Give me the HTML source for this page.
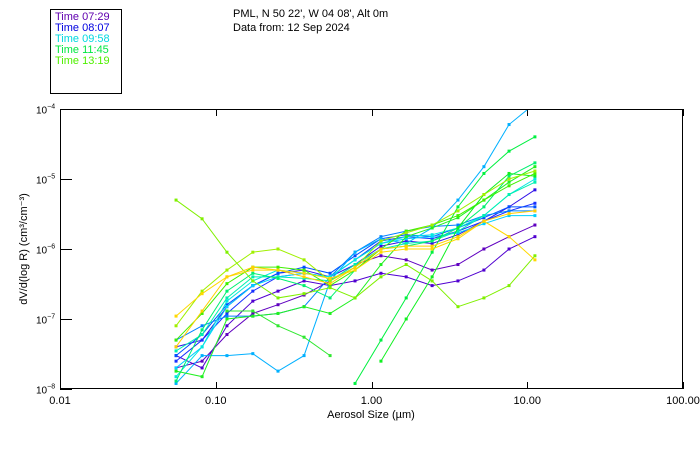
<!DOCTYPE html>
<html><head><meta charset="utf-8">
<style>
body{margin:0;background:#fff;width:700px;height:450px;overflow:hidden;font-family:"Liberation Sans","DejaVu Sans",sans-serif;}
svg{position:absolute;left:0;top:0}
</style></head>
<body>
<svg id="chart" width="700" height="450">
 <g>
  <rect x="50.5" y="9.5" width="71" height="84" fill="none" stroke="#000"/>
  <text x="55" y="20" font-size="11" fill="#6000b0">Time 07:29</text>
  <text x="55" y="31" font-size="11" fill="#0000e0">Time 08:07</text>
  <text x="55" y="42" font-size="11" fill="#00d8e0">Time 09:58</text>
  <text x="55" y="53" font-size="11" fill="#00e840">Time 11:45</text>
  <text x="55" y="64" font-size="11" fill="#50f000">Time 13:19</text>
 </g>
 <text x="233" y="17" font-size="11">PML, N 50 22', W 04 08', Alt 0m</text>
 <text x="233" y="31" font-size="11">Data from: 12 Sep 2024</text>
 <g id="axes"></g>
 <g id="series"></g>
 <rect x="60.5" y="109.5" width="622" height="279" fill="none" stroke="#000"/>
 <text x="371" y="418" font-size="11" text-anchor="middle">Aerosol Size (µm)</text>
 <text transform="translate(27,249) rotate(-90)" font-size="11" text-anchor="middle">dV/d(log R) (cm³/cm⁻³)</text>
</svg>
<script>
const sizes=[0.0556,0.0817,0.118,0.173,0.251,0.369,0.542,0.784,1.15,1.67,2.45,3.59,5.27,7.64,11.2];
const xTicks=[0.01,0.1,1,10,100];
const xTickLabels=["0.01","0.10","1.00","10.00","100.00"];
const yExps=[-4,-5,-6,-7,-8];
const seriesColors=["#6000c0","#5000d0","#3010e8","#1830ff","#0050ff","#0080ff","#00b0ff","#00d0ff","#00e8e0","#00f0b0","#00f070","#00f040","#10f020","#20f020","#40f000","#30e830","#80f000","#a0f000","#ffd800","#ffd000"];
const s1=[2e-8,2.5e-8,6e-8,1.2e-7,1.6e-7,2.2e-7,3.5e-7,6e-7,8e-7,7e-7,5e-7,6e-7,1e-6,1.5e-6,2.2e-6];
const s2=[3e-8,2e-8,8e-8,1.8e-7,2.5e-7,3.5e-7,3e-7,3.5e-7,4.5e-7,4e-7,3e-7,3.5e-7,5e-7,1e-6,1.5e-6];
const s3=[4e-8,5e-8,1.5e-7,3e-7,4.5e-7,5e-7,4e-7,6e-7,1.1e-6,1.3e-6,1.2e-6,1.6e-6,2.5e-6,4e-6,7e-6];
const s4=[2.5e-8,5e-8,1.2e-7,2.5e-7,4e-7,4.5e-7,4e-7,7e-7,1.3e-6,1.5e-6,1.4e-6,1.8e-6,2.5e-6,3.5e-6,4.5e-6];
const s5=[3e-8,6e-8,1.6e-7,3e-7,4.5e-7,5.5e-7,4.5e-7,8e-7,1.4e-6,1.6e-6,1.5e-6,2e-6,2.8e-6,4e-6,4e-6];
const s6=[5e-8,8e-8,1.1e-7,1.1e-7,1.2e-7,1.5e-7,4e-7,9e-7,1.5e-6,1.8e-6,2.1e-6,2.2e-6,3e-6,3.5e-6,3.5e-6];
const s7=[1.2e-8,3e-8,3e-8,3.2e-8,1.8e-8,3e-8,3.5e-7,9e-7,1.4e-6,1.2e-6,2e-6,5e-6,1.5e-5,6e-5,1.2e-4];
const s8=[2e-8,4e-8,1.5e-7,3e-7,4e-7,4.5e-7,4e-7,7e-7,1.2e-6,1.4e-6,1.5e-6,1.7e-6,2.3e-6,3e-6,3e-6];
const s9=[1.5e-8,4e-8,1.8e-7,3.5e-7,5e-7,4.5e-7,4e-7,7e-7,1.2e-6,1.5e-6,1.6e-6,2e-6,3e-6,6e-6,1e-5];
const s10=[3.5e-8,6e-8,2e-7,4e-7,4e-7,3.8e-7,3.5e-7,6e-7,1e-6,1.2e-6,1.3e-6,1.8e-6,3e-6,6e-6,9e-6];
const s11=[1.3e-8,7e-8,2.5e-7,4.5e-7,3.8e-7,3e-7,2e-7,5e-7,1e-6,1.1e-6,1.3e-6,2e-6,4e-6,1.1e-5,1.7e-5];
const s12=[null,null,null,null,null,null,null,1.2e-8,5e-8,2e-7,9e-7,4e-6,1.2e-5,2.5e-5,4e-5];
const s13=[null,null,null,null,null,null,null,null,2.5e-8,1e-7,4e-7,2e-6,6e-6,1.2e-5,1.1e-5];
const s14=[1.8e-8,1.5e-8,1e-7,1.1e-7,1.2e-7,1.5e-7,1.2e-7,2e-7,6e-7,1.5e-6,2e-6,2.8e-6,5e-6,9e-6,1.5e-5];
const s15=[5e-8,1.2e-7,3.2e-7,5.5e-7,5.5e-7,5e-7,3e-7,5e-7,1e-6,1.8e-6,2.2e-6,3e-6,5e-6,8e-6,1.2e-5];
const s16=[null,null,1.3e-7,1.3e-7,8e-8,5.5e-8,3e-8,null,null,null,null,null,null,null,null];
const s17=[5e-6,2.7e-6,9e-7,3.5e-7,2e-7,2.3e-7,2.8e-7,2e-7,4e-7,6e-7,3.5e-7,1.5e-7,2e-7,3e-7,8e-7];
const s18=[8e-8,2.5e-7,5e-7,9e-7,1e-6,7e-7,3.5e-7,5.5e-7,1.3e-6,1.7e-6,2.2e-6,3.5e-6,6e-6,1e-5,1.3e-5];
const s19=[1.1e-7,2.3e-7,4e-7,5e-7,5e-7,4.5e-7,3.8e-7,5e-7,9e-7,1e-6,1e-6,1.4e-6,2.5e-6,1.5e-6,7e-7];
const s20=[4e-8,1.3e-7,4e-7,5.5e-7,5e-7,4e-7,3.2e-7,5.5e-7,1e-6,1.1e-6,1.1e-6,1.5e-6,2.5e-6,3.2e-6,3.5e-6];
const allSeries=[s1,s2,s3,s4,s5,s6,s7,s8,s9,s10,s11,s12,s13,s14,s15,s16,s17,s18,s19,s20];

const X0=60,X1=683,Y0=109,Y1=389;
function xs(v){return X0+(Math.log10(v)+2)/4*(X1-X0);}
function ys(v){return Y0+(-4-Math.log10(v))/4*(Y1-Y0);}
const NS="http://www.w3.org/2000/svg";
function mk(t,a){const e=document.createElementNS(NS,t);for(const k in a)e.setAttribute(k,a[k]);return e;}
const axes=document.getElementById('axes');
xTicks.forEach((t,i)=>{
  const x=Math.round(xs(t))+0.5;
  const l=mk('line',{x1:x,x2:x,y1:Y1,y2:Y1-7,stroke:'#000'});
  
  
  axes.appendChild(l);
  const l2=mk('line',{x1:x,x2:x,y1:Y0,y2:Y0+7,stroke:'#000'});
  
  
  axes.appendChild(l2);
  const tx=mk('text',{x:xs(t),y:404,'font-size':11,'text-anchor':'middle'});
  tx.textContent=xTickLabels[i];
  
  
  axes.appendChild(tx);
});
yExps.forEach(e=>{
  const y=Math.round(ys(Math.pow(10,e)))+0.5;
  const l=mk('line',{x1:X0,x2:X0+12,y1:y,y2:y,stroke:'#000'});
  
  
  axes.appendChild(l);
  const tx=mk('text',{x:36,y:y+4,'font-size':10});
  tx.textContent='10';
  const sp=mk('tspan',{dy:-5,'font-size':7});
  sp.textContent=String(e).replace('-','−');
  tx.appendChild(sp);
  
  
  axes.appendChild(tx);
});
const sg=document.getElementById('series');
allSeries.forEach((s,si)=>{
  const g=mk('g',{});
  
  
  let pts=[];
  const flush=()=>{if(pts.length>1){const p=mk('polyline',{points:pts.join(' '),fill:'none',stroke:seriesColors[si],'stroke-width':1});g.appendChild(p);}pts=[];};
  s.forEach((v,i)=>{
    if(v==null){flush();return;}
    const x=xs(sizes[i]),y=ys(v);
    pts.push(x+','+y);
    if(y<Y0-2)return;
    const r=mk('rect',{x:x-1.5,y:y-1.5,width:3,height:3,fill:seriesColors[si]});
    
    
    g.appendChild(r);
  });
  flush();
  sg.appendChild(g);
});
sg.setAttribute('clip-path','url(#clip)');
const defs=mk('defs',{});const cp=mk('clipPath',{id:'clip'});cp.appendChild(mk('rect',{x:X0,y:Y0,width:X1-X0,height:Y1-Y0}));defs.appendChild(cp);
document.getElementById('chart').insertBefore(defs,document.getElementById('chart').firstChild);
</script>
</body></html>
